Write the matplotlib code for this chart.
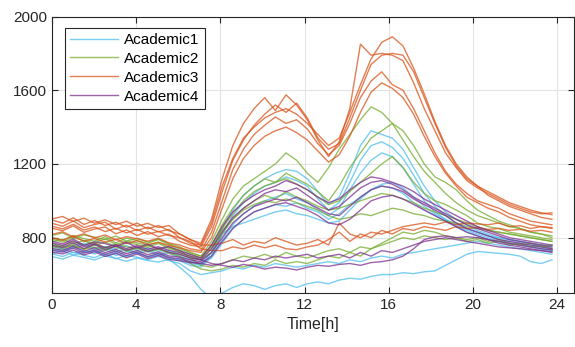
import numpy as np
import matplotlib.pyplot as plt

plt.rcParams['font.family'] = ['Liberation Sans', 'DejaVu Sans']

# half-hourly load profiles, 48 samples from 0h to 23.75h
time_h = np.linspace(0, 23.75, 48)

academic1 = [
    [740,725,748,731,722,745,718,736,712,728,705,715, 690,670,650,720, 850,950,1030,1080, 1120,1150,1170,1160,
     1120,1050,980,1020, 1150,1300,1380,1360, 1340,1280,1180,1080, 1000,940,900,870, 840,820,800,790, 780,770,760,750],
    [715,728,706,719,731,702,714,698,722,693,708,689, 675,650,640,700, 820,920,990,1040, 1080,1100,1130,1110,
     1080,1010,950,990, 1100,1220,1300,1320, 1290,1230,1140,1040, 970,920,880,850, 830,810,790,780, 770,760,750,740],
    [752,738,744,761,733,748,727,739,719,741,712,722, 700,680,660,700, 790,870,930,970, 1000,1020,1040,1010,
     990,950,920,960, 1060,1150,1220,1260, 1240,1180,1090,1000, 940,900,860,840, 820,800,780,770, 760,750,740,730],
    [728,741,719,726,712,735,703,724,716,698,711,694, 680,660,650,690, 770,850,900,940, 960,980,970,990,
     960,940,900,930, 980,1020,1060,1080, 1070,1040,990,950, 920,890,860,830, 810,790,780,770, 760,750,740,730],
    [698,684,705,693,679,701,688,672,690,676,668,682, 640,590,520,470, 500,530,550,540, 520,540,550,530,
     550,560,550,570, 580,575,590,600, 600,610,605,615, 620,650,680,710, 725,720,715,710, 700,670,660,680],
    [712,698,721,704,692,715,686,703,694,681,699,676, 660,620,600,610, 620,640,630,650, 640,660,650,640,
     650,660,670,660, 680,670,690,700, 690,710,720,730, 740,750,760,770, 780,770,760,750, 740,730,720,710],
    [762,748,757,771,744,752,739,758,731,746,727,733, 710,690,680,720, 820,860,880,900, 920,940,950,930,
     920,900,880,890, 950,1010,1060,1090, 1100,1070,1020,970, 930,900,870,850, 830,810,800,790, 780,770,760,760],
]

academic2 = [
    [802,786,812,795,781,806,772,798,784,769,791,763, 740,720,700,780, 900,1010,1080,1120, 1160,1200,1260,1220,
     1150,1100,1180,1280, 1360,1440,1510,1480, 1420,1330,1240,1160, 1100,1040,990,950, 920,900,880,860, 850,830,820,810],
    [778,791,768,784,759,777,752,771,763,748,769,741, 730,710,690,760, 870,960,1030,1080, 1120,1100,1150,1120,
     1090,1050,1000,1080, 1180,1260,1340,1380, 1420,1380,1300,1200, 1130,1100,1060,1000, 950,920,890,870, 850,830,820,800],
    [768,755,779,761,772,746,765,751,741,758,737,749, 720,700,690,740, 850,930,1000,1050, 1080,1100,1120,1090,
     1060,1020,980,1000, 1050,1100,1150,1200, 1240,1180,1100,1040, 1000,980,950,920, 880,860,850,830, 820,810,800,790],
    [761,748,755,738,764,742,751,733,746,729,738,722, 710,690,680,720, 820,900,960,1000, 1030,1010,1050,1020,
     1000,970,950,960, 980,1000,1020,1040, 1030,1010,990,960, 940,920,900,880, 860,840,830,820, 810,800,790,780],
    [792,776,801,784,770,795,763,781,772,758,776,749, 730,690,650,640, 660,680,700,690, 710,690,720,700,
     690,710,730,740, 720,750,740,770, 800,830,820,840, 830,810,800,790, 800,780,790,770, 760,770,750,760],
    [752,741,763,737,749,731,754,726,743,722,738,716, 700,660,630,620, 630,650,640,660, 650,680,660,670,
     660,680,700,690, 720,700,740,760, 780,800,790,810, 800,790,800,780, 790,770,780,760, 770,750,760,740],
    [812,826,798,815,803,789,809,781,797,776,792,768, 750,720,700,750, 840,900,950,980, 1000,990,1010,990,
     970,950,920,900, 910,930,920,940, 960,950,930,920, 900,890,880,860, 850,840,830,820, 810,800,790,780],
]

academic3 = [
    [878,862,891,855,872,884,846,868,839,857,832,845, 800,770,760,880, 1080,1230,1340,1400, 1450,1480,1500,1470,
     1420,1360,1300,1340, 1480,1630,1770,1860, 1890,1840,1720,1580, 1430,1300,1200,1130, 1080,1050,1020,990, 970,950,935,925],
    [902,915,888,906,879,897,871,889,862,878,855,866, 820,790,770,900, 1120,1300,1420,1500, 1560,1490,1575,1520,
     1440,1330,1240,1320, 1500,1850,1790,1800, 1790,1760,1640,1500, 1380,1260,1180,1110, 1070,1040,1010,980, 960,940,930,935],
    [851,838,864,829,847,858,821,842,812,833,806,819, 780,760,750,860, 1050,1220,1330,1410, 1470,1520,1480,1530,
     1450,1340,1280,1310, 1450,1600,1740,1790, 1800,1790,1700,1560, 1420,1290,1190,1120, 1080,1030,1000,970, 950,930,910,900],
    [818,832,805,821,799,815,788,806,794,781,797,772, 760,740,730,830, 1000,1170,1280,1360, 1410,1455,1420,1440,
     1390,1310,1250,1300, 1420,1560,1650,1700, 1630,1600,1500,1380, 1260,1160,1090,1040, 1000,980,960,930, 910,890,880,870],
    [798,786,809,781,795,776,792,768,784,762,775,758, 745,730,720,800, 960,1120,1230,1300, 1350,1380,1400,1370,
     1330,1270,1210,1250, 1350,1480,1590,1640, 1610,1560,1470,1350, 1240,1150,1080,1020, 990,960,940,910, 890,870,860,850],
    [896,879,908,872,893,866,884,857,879,848,866,838, 820,790,760,760, 770,790,760,780, 770,800,780,760,
     770,790,760,880, 820,800,830,820, 840,860,870,880, 870,885,870,880, 875,870,880,860, 865,850,860,855],
    [862,848,873,841,858,833,851,826,845,819,834,812, 800,780,740,730, 730,750,740,760, 745,760,740,735,
     750,760,790,830, 780,820,800,840, 820,850,840,860, 850,840,860,850, 855,845,850,840, 845,835,840,830],
]

academic4 = [
    [781,766,793,759,778,768,752,775,746,764,741,752, 730,710,690,760, 860,940,990,1030, 1060,1080,1110,1090,
     1060,1020,990,1010, 1060,1100,1130,1120, 1100,1080,1050,1010, 980,950,920,890, 860,840,820,800, 790,780,770,760],
    [758,747,772,741,763,734,756,731,749,725,743,720, 710,690,680,740, 830,910,960,1000, 1040,1060,1050,1070,
     1030,990,950,970, 1020,1070,1100,1110, 1090,1060,1020,990, 960,930,900,870, 850,830,810,790, 780,770,760,750],
    [742,731,754,726,745,719,737,713,731,708,723,701, 695,680,670,720, 800,880,930,970, 990,1010,1000,1020,
     990,960,930,920, 970,1020,1060,1080, 1070,1050,1010,980, 950,920,880,850, 830,810,790,780, 770,760,750,740],
    [721,712,733,706,724,698,716,691,712,687,703,682, 675,665,660,700, 780,850,900,940, 960,980,990,970,
     950,920,880,870, 900,950,1000,1020, 1030,1010,980,950, 920,890,860,830, 810,790,770,760, 750,740,730,720],
    [772,758,784,751,768,746,762,741,757,737,751,731, 720,700,680,660, 650,640,655,645, 630,640,635,625,
     640,650,645,655, 660,650,665,670, 680,700,740,790, 805,810,800,805, 800,790,780,770, 760,750,740,735],
    [731,722,744,716,733,709,727,703,721,697,714,692, 685,670,660,650, 660,680,670,690, 680,700,690,700,
     710,690,700,710, 690,720,700,730, 720,740,760,780, 790,800,790,780, 770,760,750,745, 740,735,730,725],
]

groups = [academic1, academic2, academic3, academic4]
names = ['Academic1', 'Academic2', 'Academic3', 'Academic4']
colors = ['#4DBEEE', '#77AC30', '#D95319', '#7E2F8E']

fig = plt.figure(figsize=(5.75, 3.47), dpi=100)
ax = fig.add_axes([52/575, 1 - 293/347, 522/575, (293 - 16.5)/347])

for days, name, c in zip(groups, names, colors):
    for k, load in enumerate(days):
        ax.plot(time_h, load, color=c, alpha=0.75, lw=1.0,
                label=name if k == 0 else None)

ax.set_xlim(0, 24.8)
ax.set_ylim(500, 2000)
ax.set_xticks([0, 4, 8, 12, 16, 20, 24])
ax.set_yticks([800, 1200, 1600, 2000])
ax.grid(True, color='#e3e3e3', lw=0.8)
ax.set_axisbelow(True)
ax.tick_params(direction='in', top=True, right=True, length=4,
               labelsize=11, colors='#262626', width=0.8)
for s in ax.spines.values():
    s.set_color('#262626')
    s.set_linewidth(0.8)
ax.set_xlabel('Time[h]', fontsize=11.5, color='#262626', labelpad=4)

leg = ax.legend(loc='upper left', bbox_to_anchor=(0.025, 0.96), fontsize=11,
                fancybox=False, edgecolor='#262626', framealpha=1,
                handlelength=3.1, handletextpad=0.4, labelspacing=0.32,
                borderpad=0.35, borderaxespad=0)
leg.get_frame().set_linewidth(0.8)

fig.savefig('out.png', dpi=100)
